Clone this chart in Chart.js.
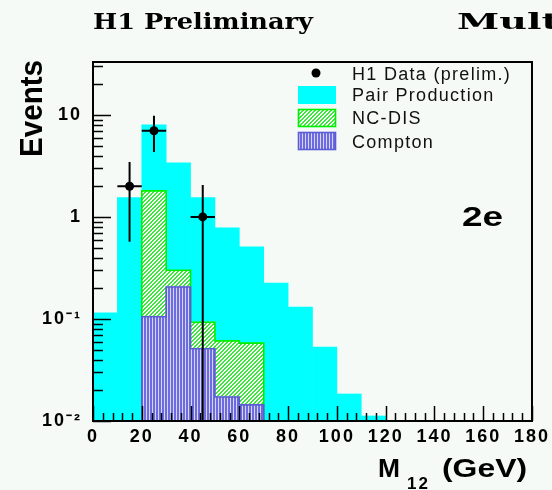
<!DOCTYPE html>
<html>
<head>
<meta charset="utf-8">
<script src="https://cdn.jsdelivr.net/npm/chart.js@4.4.1/dist/chart.umd.min.js"></script>
<style>
html, body { margin: 0; padding: 0; background: #f5faf7; }
#wrap { width: 552px; height: 490px; position: relative; }
canvas { display: block; }
</style>
</head>
<body>
<div id="wrap"><canvas id="c" width="552" height="490"></canvas></div>
<script>
// ---- data ----
const binLow = [0, 10, 20, 30, 40, 50, 60, 70, 80, 90, 100, 110, 120, 130, 140, 150, 160, 170];
const binWidth = 10;
const pairProduction = [0.115, 1.55, 8.0, 3.4, 1.55, 0.78, 0.51, 0.225, 0.131, 0.053, 0.0184, 0.0112, 0, 0, 0, 0, 0, 0];
const ncDis = [0, 0, 1.8, 0.30, 0.093, 0.061, 0.058, 0, 0, 0, 0, 0, 0, 0, 0, 0, 0, 0];
const compton = [0, 0, 0.105, 0.206, 0.051, 0.0172, 0.0144, 0, 0, 0, 0, 0, 0, 0, 0, 0, 0, 0];
const dataMass = [15, 25, 45];
const dataEvents = [2, 7, 1];
const dataErrUp = [1.46, 2.8, 1.06];
const dataErrDown = [1.43, 2.66, 1];
const xTickValues = [0, 20, 40, 60, 80, 100, 120, 140, 160, 180];
const yTickValues = [0.01, 0.1, 1, 10];
const yTickLabels = ['10\u207B\u00B2', '10\u207B\u00B9', '1', '10'];
const legendLabels = ['H1 Data (prelim.)', 'Pair Production', 'NC-DIS', 'Compton'];
const titleLeft = 'H1 Preliminary';
const titleRight = 'Mult';
const channelLabel = '2e';
const yTitle = 'Events';

// ---- styles ----
const bgColor = '#f5faf7';
const cyan = '#00ffff';
const greenLine = '#00ee00';
const blueLine = '#5c5cd4';

const canvas = document.getElementById('c');
const mainCtx = canvas.getContext('2d');

function greenPattern() {
  const c = document.createElement('canvas'); c.width = 4; c.height = 4;
  const g = c.getContext('2d');
  g.fillStyle = '#ffffff'; g.fillRect(0, 0, 4, 4);
  g.fillStyle = '#38e838';
  for (let x = 0; x < 4; x++) for (let y = 0; y < 4; y++) if ((x + y) % 4 < 2) g.fillRect(x, y, 1, 1);
  return mainCtx.createPattern(c, 'repeat');
}
function bluePattern() {
  const c = document.createElement('canvas'); c.width = 3; c.height = 1;
  const g = c.getContext('2d');
  g.fillStyle = '#6c6ce0'; g.fillRect(0, 0, 2, 1);
  g.fillStyle = '#d6d6f4'; g.fillRect(2, 0, 1, 1);
  return mainCtx.createPattern(c, 'repeat');
}
const greenFill = greenPattern();
const blueFill = bluePattern();

function histData(vals) {
  return vals.map((v, i) => ({ x: binLow[i] + binWidth / 2, y: v > 0 ? v : null }));
}

// ---- plugins ----
const bgPlugin = {
  id: 'bg',
  beforeDraw(chart) {
    const ctx = chart.ctx;
    ctx.save();
    ctx.fillStyle = bgColor;
    ctx.fillRect(0, 0, chart.width, chart.height);
    ctx.restore();
    ctx.letterSpacing = '2px';
  }
};

const outlinePlugin = {
  id: 'outline',
  afterDatasetDraw(chart, args) {
    const ds = chart.data.datasets[args.index];
    if (!ds.outlineColor) return;
    const meta = args.meta;
    const bars = meta.data.filter((el, i) => meta._parsed[i] && meta._parsed[i].y != null);
    if (!bars.length) return;
    const ctx = chart.ctx;
    const a = chart.chartArea;
    ctx.save();
    ctx.beginPath(); ctx.rect(a.left, a.top, a.right - a.left, a.bottom - a.top); ctx.clip();
    ctx.strokeStyle = ds.outlineColor;
    ctx.lineWidth = 1.6;
    ctx.beginPath();
    const f = bars[0];
    ctx.moveTo(f.x - f.width / 2, f.base);
    bars.forEach(b => {
      ctx.lineTo(b.x - b.width / 2, b.y);
      ctx.lineTo(b.x + b.width / 2, b.y);
    });
    const l = bars[bars.length - 1];
    ctx.lineTo(l.x + l.width / 2, l.base);
    ctx.stroke();
    ctx.restore();
  }
};

const axesPlugin = {
  id: 'axesDeco',
  afterDatasetsDraw(chart) {
    const ctx = chart.ctx;
    const a = chart.chartArea;
    const xs = chart.scales.x, ys = chart.scales.y;
    ctx.save();
    // error bars
    ctx.beginPath(); ctx.rect(a.left, a.top, a.right - a.left, a.bottom - a.top); ctx.clip();
    ctx.strokeStyle = '#000'; ctx.lineWidth = 2;
    dataMass.forEach((m, i) => {
      const px = xs.getPixelForValue(m);
      const py = ys.getPixelForValue(dataEvents[i]);
      const top = ys.getPixelForValue(dataEvents[i] + dataErrUp[i]);
      const lowV = dataEvents[i] - dataErrDown[i];
      const bot = lowV > ys.min ? ys.getPixelForValue(lowV) : a.bottom;
      ctx.beginPath();
      ctx.moveTo(px, top); ctx.lineTo(px, bot);
      ctx.moveTo(xs.getPixelForValue(m - binWidth / 2), py);
      ctx.lineTo(xs.getPixelForValue(m + binWidth / 2), py);
      ctx.stroke();
    });
    ctx.restore();

    ctx.save();
    ctx.strokeStyle = '#000';
    ctx.lineWidth = 1.5;
    // x ticks (inward)
    ctx.beginPath();
    for (let v = xs.min; v <= xs.max + 0.001; v += 4) {
      const px = Math.round(xs.getPixelForValue(v)) + 0.5;
      const len = (v % 20 === 0) ? 15 : 8;
      ctx.moveTo(px, a.bottom); ctx.lineTo(px, a.bottom - len);
    }
    // y ticks (inward)
    for (let e = -2; e <= 1; e++) {
      for (let m = 1; m <= 9; m++) {
        const v = m * Math.pow(10, e);
        if (v > ys.max) break;
        const py = Math.round(ys.getPixelForValue(v)) + 0.5;
        const len = m === 1 ? 18 : 10;
        ctx.moveTo(a.left, py); ctx.lineTo(a.left + len, py);
      }
    }
    ctx.stroke();
    // frame
    ctx.lineWidth = 2;
    ctx.strokeRect(a.left, a.top, a.right - a.left, a.bottom - a.top);
    ctx.restore();
  }
};

function fitText(ctx, text, x, y, width) {
  ctx.save();
  ctx.letterSpacing = '0px';
  const w = ctx.measureText(text).width;
  ctx.translate(x, y);
  ctx.scale(width / w, 1);
  ctx.fillText(text, 0, 0);
  ctx.restore();
}

const textPlugin = {
  id: 'texts',
  afterDraw(chart) {
    const ctx = chart.ctx;
    ctx.save();
    ctx.fillStyle = '#000';
    ctx.textBaseline = 'alphabetic';
    ctx.textAlign = 'left';
    // titles
    ctx.font = 'bold 22px "DejaVu Serif", "Liberation Serif", serif';
    fitText(ctx, titleLeft, 93, 29, 220);
    fitText(ctx, titleRight, 457, 29, 102);

    // y axis title (rotated)
    ctx.font = 'bold 32px "Liberation Sans", Arial, sans-serif';
    ctx.save();
    ctx.translate(42, 157);
    ctx.rotate(-Math.PI / 2);
    fitText(ctx, yTitle, 0, 0, 97);
    ctx.restore();

    // x axis title
    ctx.font = 'bold 26px "Liberation Sans", Arial, sans-serif';
    ctx.letterSpacing = '0px';
    fitText(ctx, 'M', 378, 477, 22);
    ctx.font = 'bold 17px "Liberation Sans", Arial, sans-serif';
    ctx.letterSpacing = '2px';
    ctx.fillText('12', 407, 489);
    ctx.font = 'bold 26px "Liberation Sans", Arial, sans-serif';
    fitText(ctx, '(GeV)', 442, 477, 85);

    // channel label
    ctx.font = 'bold 28px "Liberation Sans", Arial, sans-serif';
    fitText(ctx, channelLabel, 462, 226, 41);

    // legend
    const lx = 298, tx = 352;
    ctx.beginPath(); ctx.arc(316, 73, 4.5, 0, Math.PI * 2); ctx.fill();
    ctx.fillStyle = cyan; ctx.fillRect(lx, 86, 38, 18);
    ctx.fillStyle = greenFill; ctx.fillRect(lx, 109, 38, 18);
    ctx.strokeStyle = greenLine; ctx.lineWidth = 1.6; ctx.strokeRect(lx + 0.5, 109.5, 37, 17);
    ctx.fillStyle = blueFill; ctx.fillRect(lx, 132, 38, 18);
    ctx.strokeStyle = blueLine; ctx.strokeRect(lx + 0.5, 132.5, 37, 17);
    ctx.fillStyle = '#111';
    ctx.font = '18px "Liberation Sans", Arial, sans-serif';
    ctx.letterSpacing = '1.3px';
    const baselines = [80, 101, 124, 148];
    legendLabels.forEach((t, i) => ctx.fillText(t, tx, baselines[i]));
    ctx.restore();
  }
};

const tickFont = { family: '"Liberation Sans", Arial, sans-serif', size: 18, weight: 'bold' };

new Chart(canvas, {
  type: 'bar',
  data: {
    datasets: [
      {
        type: 'line', label: legendLabels[0],
        data: dataMass.map((m, i) => ({ x: m, y: dataEvents[i] })),
        showLine: false, pointRadius: 4.5, pointBackgroundColor: '#000', pointBorderWidth: 0,
        order: 0
      },
      {
        label: legendLabels[3], data: histData(compton), backgroundColor: blueFill,
        borderWidth: 0, grouped: false, barPercentage: 1, categoryPercentage: 1,
        outlineColor: blueLine, order: 1
      },
      {
        label: legendLabels[2], data: histData(ncDis), backgroundColor: greenFill,
        borderWidth: 0, grouped: false, barPercentage: 1, categoryPercentage: 1,
        outlineColor: greenLine, order: 2
      },
      {
        label: legendLabels[1], data: histData(pairProduction), backgroundColor: cyan,
        borderWidth: 0, grouped: false, barPercentage: 1, categoryPercentage: 1,
        order: 3
      }
    ]
  },
  options: {
    responsive: false,
    animation: false,
    devicePixelRatio: 1,
    layout: { padding: { top: 62, right: 18, left: 0, bottom: 0 } },
    plugins: { legend: { display: false }, tooltip: { enabled: false }, title: { display: false } },
    scales: {
      x: {
        type: 'linear', min: 0, max: 180, offset: false,
        grid: { display: false, drawTicks: false }, border: { display: false },
        afterBuildTicks(axis) { axis.ticks = xTickValues.map(v => ({ value: v })); },
        afterFit(scale) { scale.height = 69; },
        ticks: { color: '#000', font: tickFont, padding: 5, autoSkip: false, maxRotation: 0,
          callback: (v) => String(v) }
      },
      y: {
        type: 'logarithmic', min: 0.01, max: 33,
        grid: { display: false, drawTicks: false }, border: { display: false },
        afterBuildTicks(axis) { axis.ticks = yTickValues.map(v => ({ value: v })); },
        afterFit(scale) { scale.width = 93; },
        ticks: { color: '#000', font: tickFont, padding: 11, autoSkip: false,
          callback: (v) => { const i = yTickValues.indexOf(v); return i >= 0 ? yTickLabels[i] : ''; } }
      }
    }
  },
  plugins: [bgPlugin, outlinePlugin, axesPlugin, textPlugin]
});
</script>
</body>
</html>
